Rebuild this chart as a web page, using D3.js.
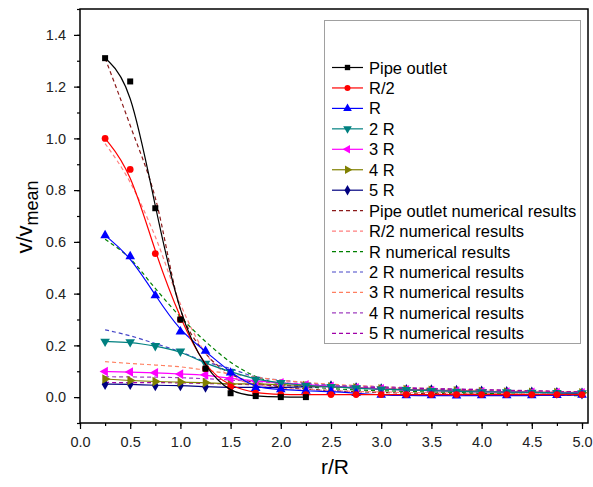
<!DOCTYPE html>
<html>
<head>
<meta charset="utf-8">
<script src="https://cdn.jsdelivr.net/npm/d3@7"></script>
<style>
  body { margin: 0; background: #fff; }
  #chart svg { display: block; font-family: "Liberation Sans", Arial, sans-serif; }
</style>
</head>
<body>
<div id="chart"></div>
<script>
// x positions of measurements (r/R)
const rPos = [0.25, 0.5, 0.75, 1.0, 1.25, 1.5, 1.75, 2.0, 2.25, 2.5,
              2.75, 3.0, 3.25, 3.5, 3.75, 4.0, 4.25, 4.5, 4.75, 5.0];

// experimental series (v/vmean)
const pipeOutlet = [1.31, 1.22, 0.73, 0.30, 0.11, 0.015, 0.004, 0.0, 0.0];
const halfR = [1.00, 0.88, 0.555, 0.30, 0.11, 0.04, 0.015, 0.01, 0.01, 0.01,
               0.01, 0.01, 0.01, 0.01, 0.01, 0.01, 0.01, 0.01, 0.01, 0.01];
const oneR = [0.625, 0.544, 0.393, 0.253, 0.178, 0.094, 0.034, 0.03, 0.024, 0.022,
              0.015, 0.008, 0.006, 0.006, 0.005, 0.006, 0.006, 0.006, 0.007, 0.008];
const twoR = [0.215, 0.213, 0.198, 0.177, 0.13, 0.098, 0.068, 0.055, 0.045, 0.04,
              0.035, 0.03, 0.028, 0.025, 0.022, 0.02, 0.02, 0.018, 0.017, 0.016];
const threeR = [0.099, 0.097, 0.094, 0.089, 0.086, 0.072, 0.063, 0.055, 0.048, 0.042,
                0.036, 0.032, 0.028, 0.025, 0.023, 0.021, 0.02, 0.019, 0.018, 0.017];
const fourR = [0.07, 0.064, 0.06, 0.058, 0.056, 0.05, 0.052, 0.048, 0.045, 0.04,
               0.036, 0.032, 0.029, 0.026, 0.024, 0.022, 0.02, 0.019, 0.018, 0.017];
const fiveR = [0.05, 0.05, 0.045, 0.045, 0.04, 0.037, 0.038, 0.037, 0.04, 0.042,
               0.035, 0.031, 0.028, 0.027, 0.025, 0.022, 0.02, 0.018, 0.016, 0.014];

// numerical results
const pipeOutletNum = [1.31, 1.05, 0.77, 0.34, 0.17, 0.09, 0.055, 0.04, 0.032, 0.025,
                       0.021, 0.018, 0.016, 0.014, 0.013, 0.012, 0.011, 0.011, 0.01, 0.01];
const halfRNum = [0.98, 0.83, 0.62, 0.36, 0.17, 0.08, 0.05, 0.035, 0.03, 0.025,
                  0.022, 0.02, 0.018, 0.017, 0.016, 0.015, 0.014, 0.013, 0.012, 0.012];
const oneRNum = [0.61, 0.535, 0.42, 0.31, 0.215, 0.135, 0.08, 0.05, 0.04, 0.033,
                 0.028, 0.025, 0.022, 0.02, 0.018, 0.015, 0.012, 0.01, 0.008, 0.005];
const twoRNum = [0.26, 0.237, 0.207, 0.175, 0.137, 0.11, 0.078, 0.066, 0.055, 0.047,
                 0.041, 0.036, 0.032, 0.029, 0.026, 0.023, 0.021, 0.019, 0.017, 0.015];
const threeRNum = [0.137, 0.13, 0.124, 0.117, 0.104, 0.09, 0.077, 0.065, 0.057, 0.05,
                   0.045, 0.04, 0.036, 0.033, 0.03, 0.028, 0.026, 0.024, 0.022, 0.02];
const fourRNum = [0.079, 0.078, 0.077, 0.075, 0.071, 0.066, 0.06, 0.055, 0.05, 0.046,
                  0.043, 0.04, 0.037, 0.034, 0.032, 0.03, 0.027, 0.025, 0.022, 0.02];
const fiveRNum = [0.057, 0.056, 0.056, 0.055, 0.053, 0.05, 0.048, 0.045, 0.043, 0.04,
                  0.038, 0.036, 0.034, 0.032, 0.03, 0.028, 0.026, 0.024, 0.022, 0.02];

const xTicks = [0.0, 0.5, 1.0, 1.5, 2.0, 2.5, 3.0, 3.5, 4.0, 4.5, 5.0];
const yTicks = [0.0, 0.2, 0.4, 0.6, 0.8, 1.0, 1.2, 1.4];

const expSeries = [
  { name: "Pipe outlet", values: pipeOutlet, color: "#000000", symbol: d3.symbolSquare, size: 36, rot: 0 },
  { name: "R/2", values: halfR, color: "#ff0000", symbol: d3.symbolCircle, size: 36, rot: 0 },
  { name: "R", values: oneR, color: "#0000ff", symbol: d3.symbolTriangle, size: 40, rot: 0 },
  { name: "2 R", values: twoR, color: "#008080", symbol: d3.symbolTriangle, size: 40, rot: 180 },
  { name: "3 R", values: threeR, color: "#ff00ff", symbol: d3.symbolTriangle, size: 40, rot: -90 },
  { name: "4 R", values: fourR, color: "#808000", symbol: d3.symbolTriangle, size: 40, rot: 90 },
  { name: "5 R", values: fiveR, color: "#000080", symbol: d3.symbolDiamond, size: 40, rot: 0 }
];

const numSeries = [
  { name: "Pipe outlet numerical results", values: pipeOutletNum, color: "#8b1a1a" },
  { name: "R/2 numerical results", values: halfRNum, color: "#ff7f7f" },
  { name: "R numerical results", values: oneRNum, color: "#008000" },
  { name: "2 R numerical results", values: twoRNum, color: "#4646c8" },
  { name: "3 R numerical results", values: threeRNum, color: "#ff7f60" },
  { name: "4 R numerical results", values: fourRNum, color: "#a040c0" },
  { name: "5 R numerical results", values: fiveRNum, color: "#a000a8" }
];

const W = 593, H = 487;
const plotLeft = 80, plotRight = 588, plotTop = 9, plotBottom = 423;

const svg = d3.select("#chart").append("svg")
  .attr("width", W)
  .attr("height", H);

const x = d3.scaleLinear().domain([0, 5]).range([plotLeft, 582]);
const y = d3.scaleLinear().domain([-0.1, 1.5]).range([plotBottom, plotTop]);

// frame
svg.append("rect")
  .attr("x", plotLeft).attr("y", plotTop)
  .attr("width", plotRight - plotLeft).attr("height", plotBottom - plotTop)
  .attr("fill", "none").attr("stroke", "#000").attr("stroke-width", 1.5);

// axes with major + minor ticks
const xMinor = d3.range(0, 5.01, 0.25);
const yMinor = d3.range(-0.1, 1.51, 0.1);

const gx = svg.append("g").attr("transform", `translate(0, ${plotBottom})`);
gx.call(d3.axisBottom(x).tickValues(xMinor).tickSize(3).tickFormat(""));
gx.select(".domain").remove();
const gx2 = svg.append("g").attr("transform", `translate(0, ${plotBottom})`);
gx2.call(d3.axisBottom(x).tickValues(xTicks).tickSize(6).tickPadding(8).tickFormat(d3.format(".1f")));
gx2.select(".domain").remove();

const gy = svg.append("g").attr("transform", `translate(${plotLeft}, 0)`);
gy.call(d3.axisLeft(y).tickValues(yMinor).tickSize(3).tickFormat(""));
gy.select(".domain").remove();
const gy2 = svg.append("g").attr("transform", `translate(${plotLeft}, 0)`);
gy2.call(d3.axisLeft(y).tickValues(yTicks).tickSize(6).tickPadding(8).tickFormat(d3.format(".1f")));
gy2.select(".domain").remove();

svg.selectAll(".tick line").attr("stroke", "#000").attr("stroke-width", 1.2);
svg.selectAll(".tick text")
  .style("font-size", "14.5px")
  .style("font-family", "Liberation Sans, Arial, sans-serif")
  .attr("fill", "#222");

// axis titles
svg.append("text")
  .attr("x", 335).attr("y", 474)
  .attr("text-anchor", "middle")
  .style("font-size", "21px")
  .text("r/R");

const yt = svg.append("text")
  .attr("transform", "translate(32, 217) rotate(-90)")
  .attr("text-anchor", "middle")
  .style("font-size", "22px");
yt.append("tspan").text("v/v");
yt.append("tspan").attr("dy", 6).style("font-size", "18px").text("mean");

// curves
const smooth = d3.line()
  .x(d => x(d[0]))
  .y(d => y(d[1]))
  .curve(d3.curveBasis);

const dashLine = d3.line()
  .x(d => x(d[0]))
  .y(d => y(d[1]))
  .curve(d3.curveMonotoneX);

const plot = svg.append("g");

numSeries.forEach(s => {
  const pts = s.values.map((v, i) => [rPos[i], v]);
  plot.append("path")
    .datum(pts)
    .attr("fill", "none")
    .attr("stroke", s.color)
    .attr("stroke-width", 1.2)
    .attr("stroke-dasharray", "4,3")
    .attr("d", dashLine);
});

expSeries.slice().reverse().forEach(s => {
  const pts = s.values.map((v, i) => [rPos[i], v]);
  plot.append("path")
    .datum(pts)
    .attr("fill", "none")
    .attr("stroke", s.color)
    .attr("stroke-width", 1.2)
    .attr("d", smooth);

  plot.selectAll(null)
    .data(pts)
    .enter()
    .append("path")
    .attr("transform", d => `translate(${x(d[0])}, ${y(d[1])}) rotate(${s.rot})`)
    .attr("d", d3.symbol().type(s.symbol).size(s.size))
    .attr("fill", s.color);
});

// legend
const lg = svg.append("g");
lg.append("rect")
  .attr("x", 324.5).attr("y", 20.5)
  .attr("width", 256).attr("height", 323)
  .attr("fill", "#fff")
  .attr("stroke", "#a0a0a0")
  .attr("stroke-width", 1);

const legendItems = expSeries.map(s => ({ ...s, dashed: false }))
  .concat(numSeries.map(s => ({ ...s, dashed: true })));

const items = lg.selectAll(".legend-item")
  .data(legendItems)
  .enter()
  .append("g")
  .attr("class", "legend-item")
  .attr("transform", (d, i) => `translate(332, ${67.5 + i * 20.45})`);

items.append("line")
  .attr("x1", 0).attr("x2", 31)
  .attr("stroke", d => d.color)
  .attr("stroke-width", 1.2)
  .attr("stroke-dasharray", d => d.dashed ? "4,3" : null);

items.filter(d => !d.dashed)
  .append("path")
  .attr("transform", d => `translate(15.5, 0) rotate(${d.rot})`)
  .attr("d", d => d3.symbol().type(d.symbol).size(d.size * 0.8)())
  .attr("fill", d => d.color);

items.append("text")
  .attr("x", 37).attr("y", 6)
  .style("font-size", "16.5px")
  .attr("fill", "#000")
  .text(d => d.name);
</script>
</body>
</html>
